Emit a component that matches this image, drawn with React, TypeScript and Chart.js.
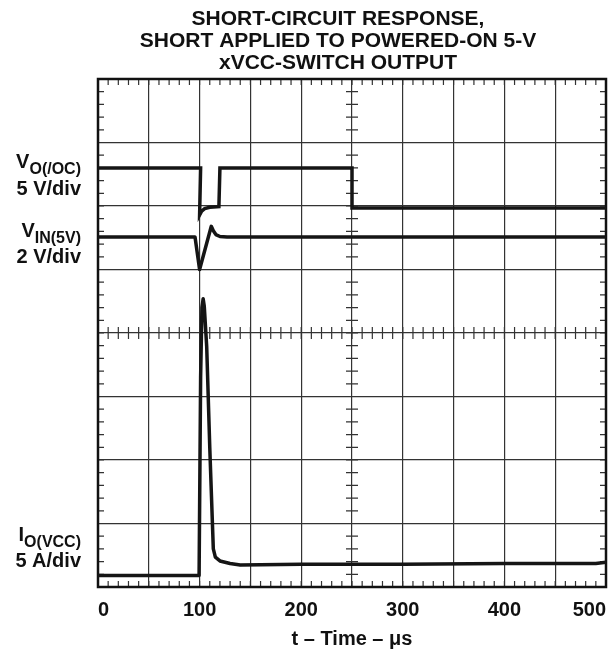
import { useEffect, useRef } from "react";
import { Chart, registerables } from "chart.js";

Chart.register(...registerables);

const FONT = '"Liberation Sans", Arial, Helvetica, sans-serif';

const titleLines = ["SHORT-CIRCUIT RESPONSE,", "SHORT APPLIED TO POWERED-ON 5-V", "xVCC-SWITCH OUTPUT"];
const xAxisTitle = "t – Time – μs";
const xTickLabels = ["0", "100", "200", "300", "400", "500"];

// Trace labels: main letter, subscript, scale line
const traceNames = ["V", "V", "I"];
const traceSubs = ["O(/OC)", "IN(5V)", "O(VCC)"];
const traceScales = ["5 V/div", "2 V/div", "5 A/div"];

// Time axis (µs) and trace levels (screen divisions, 0 = bottom, 8 = top)
const voTime = [0, 101, 100, 102, 105, 110, 119, 120, 250, 250, 500];
const voLevel = [6.6, 6.6, 5.86, 5.92, 5.96, 5.98, 5.99, 6.6, 6.6, 5.97, 5.97];

const vinTime = [0, 95.5, 100, 111.5, 113.5, 116, 120, 127, 500];
const vinLevel = [5.51, 5.51, 5.0, 5.68, 5.61, 5.55, 5.52, 5.51, 5.51];

const ioTime = [0, 99.5, 101, 102.3, 103.5, 104.6, 107, 110, 113.5, 115.5, 120, 130, 140, 160, 200, 300, 400, 490, 500];
const ioLevel = [0.18, 0.18, 3.3, 4.4, 4.54, 4.42, 3.78, 2.2, 0.6, 0.47, 0.41, 0.37, 0.345, 0.35, 0.36, 0.36, 0.37, 0.37, 0.39];

const toPoints = (xs: number[], ys: number[]) => xs.map((x, i) => ({ x, y: ys[i] }));

const scopePlugin = {
  id: "scope",
  beforeDatasetsDraw(chart: any) {
    const { ctx, chartArea: a, scales } = chart;
    const xs = scales.x;
    const ys = scales.y;
    ctx.save();
    ctx.strokeStyle = "#333";
    ctx.lineWidth = 1.2;
    ctx.beginPath();
    const cy = ys.getPixelForValue(4);
    const cx = xs.getPixelForValue(250);
    for (let i = 1; i < 50; i++) {
      const px = xs.getPixelForValue(i * 10);
      ctx.moveTo(px, a.top);
      ctx.lineTo(px, a.top + 6);
      ctx.moveTo(px, a.bottom);
      ctx.lineTo(px, a.bottom - 6);
      ctx.moveTo(px, cy - 6);
      ctx.lineTo(px, cy + 6);
    }
    for (let i = 1; i < 40; i++) {
      const py = ys.getPixelForValue(i * 0.2);
      ctx.moveTo(a.left, py);
      ctx.lineTo(a.left + 6, py);
      ctx.moveTo(a.right, py);
      ctx.lineTo(a.right - 6, py);
      ctx.moveTo(cx - 6, py);
      ctx.lineTo(cx + 6, py);
    }
    ctx.stroke();
    ctx.strokeStyle = "#111";
    ctx.lineWidth = 2.5;
    ctx.strokeRect(a.left, a.top, a.right - a.left, a.bottom - a.top);
    ctx.restore();
  },
  afterDraw(chart: any) {
    const { ctx, chartArea: a } = chart;
    ctx.save();
    ctx.fillStyle = "#111";
    ctx.textBaseline = "alphabetic";
    ctx.font = `bold 21px ${FONT}`;
    ctx.textAlign = "center";
    const titleBase = [25, 47, 68.5];
    titleLines.forEach((t, i) => ctx.fillText(t, 338, titleBase[i]));
    ctx.font = `bold 20px ${FONT}`;
    ctx.fillText(xAxisTitle, (a.left + a.right) / 2, 645);
    const nameBase = [168, 237, 541];
    const scaleBase = [195, 263, 567];
    const rightX = 81;
    ctx.textAlign = "left";
    traceNames.forEach((n, i) => {
      ctx.font = `bold 20px ${FONT}`;
      const wMain = ctx.measureText(n).width;
      ctx.font = `bold 16px ${FONT}`;
      const wSub = ctx.measureText(traceSubs[i]).width;
      const x0 = rightX - wMain - wSub;
      ctx.font = `bold 20px ${FONT}`;
      ctx.fillText(n, x0, nameBase[i]);
      ctx.font = `bold 16px ${FONT}`;
      ctx.fillText(traceSubs[i], x0 + wMain, nameBase[i] + 6);
      ctx.font = `bold 20px ${FONT}`;
      ctx.textAlign = "right";
      ctx.fillText(traceScales[i], rightX, scaleBase[i]);
      ctx.textAlign = "left";
    });
    ctx.restore();
  },
};

export default function App() {
  const ref = useRef<HTMLCanvasElement | null>(null);
  useEffect(() => {
    document.body.style.margin = "0";
    const canvas = ref.current;
    if (!canvas) return;
    const traceStyle = {
      borderColor: "#151515",
      borderWidth: 3.5,
      pointRadius: 0,
      fill: false,
      tension: 0,
      borderJoinStyle: "round" as const,
      borderCapStyle: "butt" as const,
    };
    const chart = new Chart(canvas, {
      type: "line",
      data: {
        datasets: [
          { ...traceStyle, label: "VO", data: toPoints(voTime, voLevel), borderJoinStyle: "miter" as const },
          { ...traceStyle, label: "VIN", data: toPoints(vinTime, vinLevel) },
          { ...traceStyle, label: "IO", data: toPoints(ioTime, ioLevel) },
        ],
      },
      options: {
        animation: false,
        responsive: false,
        layout: { padding: { left: 98, top: 79, right: 10, bottom: 0 } },
        plugins: { legend: { display: false }, tooltip: { enabled: false }, title: { display: false } },
        scales: {
          x: {
            type: "linear",
            min: 0,
            max: 500,
            afterFit: (s: any) => {
              s.height = 68;
              s.paddingLeft = 0;
              s.paddingRight = 0;
            },
            ticks: {
              stepSize: 50,
              autoSkip: false,
              maxRotation: 0,
              align: "inner",
              padding: 11,
              color: "#111",
              font: { family: FONT, size: 20, weight: "bold" },
              callback: (v: any) => (Number(v) % 100 === 0 ? xTickLabels[Number(v) / 100] : ""),
            },
            grid: { color: "#333", lineWidth: 1.2, drawTicks: false },
            border: { display: false },
          },
          y: {
            type: "linear",
            min: 0,
            max: 8,
            afterFit: (s: any) => {
              s.width = 0;
              s.paddingTop = 0;
              s.paddingBottom = 0;
            },
            ticks: { stepSize: 1, display: false },
            grid: { color: "#333", lineWidth: 1.2, drawTicks: false },
            border: { display: false },
          },
        },
      },
      plugins: [scopePlugin],
    });
    return () => chart.destroy();
  }, []);
  return (
    <div style={{ width: 616, height: 655 }}>
      <canvas ref={ref} width={616} height={655} style={{ display: "block" }} />
    </div>
  );
}
